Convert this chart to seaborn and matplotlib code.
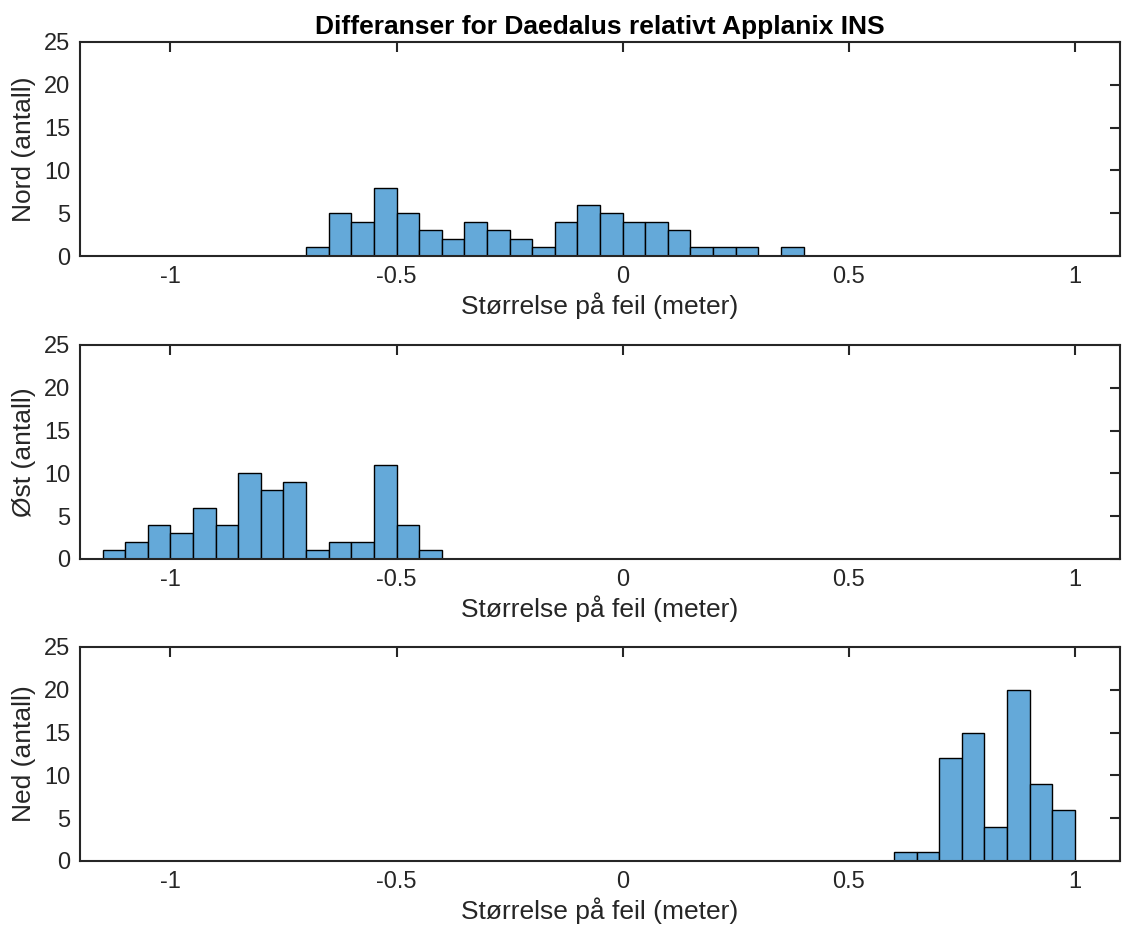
import matplotlib
matplotlib.use("Agg")
import matplotlib.pyplot as plt
import numpy as np
import pandas as pd
import seaborn as sns

# bin width 0.05 m, counts
BIN_WIDTH = 0.05
nord_start = -0.70
nord_counts = [1, 5, 4, 8, 5, 3, 2, 4, 3, 2, 1, 4, 6, 5, 4, 4, 3, 1, 1, 1, 0, 1]
ost_start = -1.15
ost_counts = [1, 2, 4, 3, 6, 4, 10, 8, 9, 1, 2, 2, 11, 4, 1]
ned_start = 0.60
ned_counts = [1, 1, 12, 15, 4, 20, 9, 6]

panels = [
    ("Nord (antall)", nord_start, nord_counts),
    ("Øst (antall)", ost_start, ost_counts),
    ("Ned (antall)", ned_start, ned_counts),
]

TITLE = "Differanser for Daedalus relativt Applanix INS"
XLABEL = "Størrelse på feil (meter)"
XTICKS = [-1, -0.5, 0, 0.5, 1]
XTICKLABELS = ["-1", "-0.5", "0", "0.5", "1"]
YTICKS = [0, 5, 10, 15, 20, 25]

BAR = "#64a9d9"
AX_COL = "#262626"

sns.set_style("white")
plt.rcParams["font.family"] = ["Liberation Sans", "DejaVu Sans"]

fig = plt.figure(figsize=(11.22, 9.25), dpi=100)
bottoms = [0.7232, 0.3957, 0.0692]

for (ylabel, start, counts), b in zip(panels, bottoms):
    ax = fig.add_axes([0.0713, b, 0.927, 0.2314])
    n = len(counts)
    edges = [round(start + BIN_WIDTH * i, 4) for i in range(n + 1)]
    df = pd.DataFrame({
        "center": [(edges[i] + edges[i + 1]) / 2 for i in range(n)],
        "count": counts,
    })
    sns.histplot(data=df, x="center", weights="count", bins=edges, ax=ax,
                 color=BAR, alpha=1.0, edgecolor="black", linewidth=1.0)
    ax.set_xlim(-1.2, 1.1)
    ax.set_ylim(0, 25)
    ax.set_xticks(XTICKS)
    ax.set_xticklabels(XTICKLABELS)
    ax.set_yticks(YTICKS)
    ax.tick_params(direction="in", length=7.5, width=1.5, top=True, right=True,
                   labelsize=17, colors=AX_COL, pad=7)
    for s in ax.spines.values():
        s.set_color(AX_COL)
        s.set_linewidth(1.5)
        s.set_visible(True)
    ax.set_xlabel(XLABEL, fontsize=19, color=AX_COL, labelpad=3)
    ax.set_ylabel(ylabel, fontsize=19, color=AX_COL, labelpad=6)

fig.axes[0].set_title(TITLE, fontsize=19, fontweight="bold", color="black", pad=6)

fig.savefig("out.png", dpi=100)
